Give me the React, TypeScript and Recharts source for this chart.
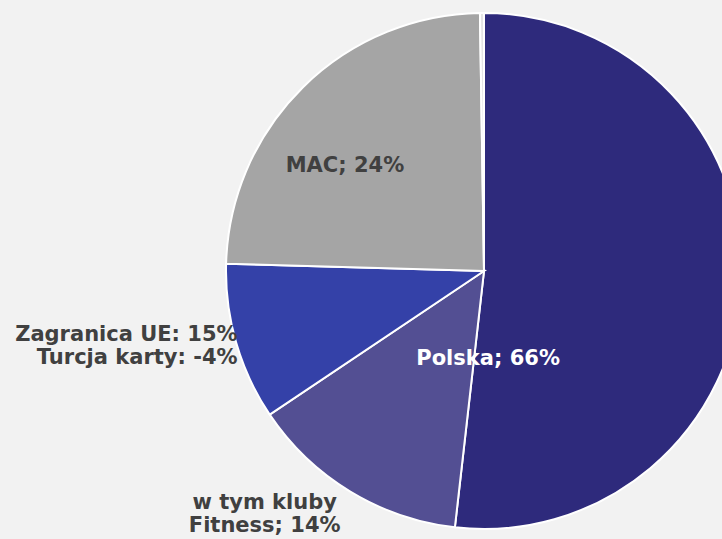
import { PieChart, Pie, Cell } from 'recharts';

// ─── data ────────────────────────────────────────────────────────────────────
const SEGMENTS = ['Polska', 'w tym kluby Fitness', 'Zagranica UE', 'MAC', 'Inne'];
const SHARES   = [51.8, 13.8, 9.85, 24.3, 0.25];
const LABELS   = [
  ['Polska; 66%'],
  ['w tym kluby', 'Fitness; 14%'],
  ['Zagranica UE: 15%', 'Turcja karty: -4%'],
  ['MAC; 24%'],
  [],
];

const COLORS = ['#2E2A7C', '#534F93', '#3441A8', '#A5A5A5', '#E4E4E4'];
const LABEL_COLORS = ['#FFFFFF', '#404040', '#404040', '#404040', '#404040'];

// label placement, as fractions of the radius from the pie centre
const LABEL_POS: { dx: number; dy: number; anchor: 'start' | 'middle' | 'end' }[] = [
  { dx: 0.016, dy: 0.337, anchor: 'middle' },
  { dx: -0.85, dy: 0.94, anchor: 'middle' },
  { dx: -0.955, dy: 0.287, anchor: 'end' },
  { dx: -0.539, dy: -0.411, anchor: 'middle' },
  { dx: 0, dy: 0, anchor: 'middle' },
];

const data = SEGMENTS.map((name, i) => ({ name, value: SHARES[i] }));

const FONT = "'DejaVu Sans', sans-serif";
const LINE_H = 23;

function renderLabel(props: any) {
  const { cx, cy, outerRadius, index } = props;
  const lines = LABELS[index];
  if (!lines || !lines.length) return null;
  const pos = LABEL_POS[index];
  const x = cx + pos.dx * outerRadius;
  const y = cy + pos.dy * outerRadius;
  const startY = y - ((lines.length - 1) * LINE_H) / 2;
  return (
    <text
      x={x}
      y={startY}
      textAnchor={pos.anchor}
      dominantBaseline="central"
      fill={LABEL_COLORS[index]}
      fontFamily={FONT}
      fontWeight={700}
      fontSize={21}
    >
      {lines.map((l, i) => (
        <tspan key={i} x={x} y={startY + i * LINE_H}>{l}</tspan>
      ))}
    </text>
  );
}

export default function App() {
  return (
    <div style={{ position: 'fixed', top: 0, left: 0, width: 722, height: 539, background: '#F2F2F2', overflow: 'hidden' }}>
      <PieChart width={722} height={539} margin={{ top: 0, right: 0, bottom: 0, left: 0 }}>
        <Pie
          data={data}
          dataKey="value"
          nameKey="name"
          cx={484}
          cy={271}
          outerRadius={258}
          startAngle={90}
          endAngle={-270}
          stroke="#FFFFFF"
          strokeWidth={2}
          labelLine={false}
          label={renderLabel}
          isAnimationActive={false}
        >
          {data.map((_, i) => <Cell key={i} fill={COLORS[i]} />)}
        </Pie>
      </PieChart>
    </div>
  );
}
